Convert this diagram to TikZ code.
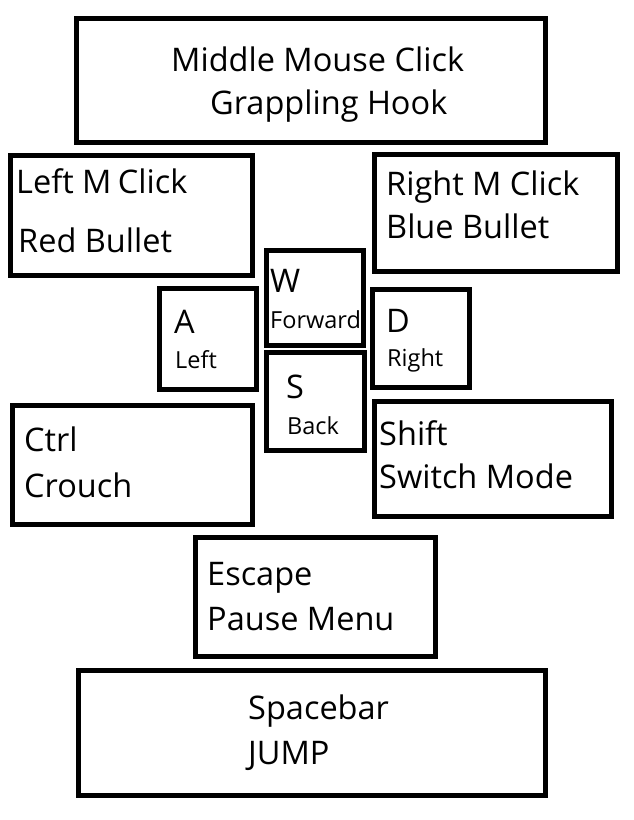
\documentclass[tikz,border=0pt]{standalone}
\usepackage{fontspec}
\setmainfont{Open Sans}
\begin{document}
\begin{tikzpicture}[x=1pt,y=-1pt,
  keybox/.style={draw=black,line width=5pt,rectangle,inner sep=0pt,outer sep=0pt},
  bigtxt/.style={anchor=base west,inner sep=0pt,font=\fontsize{32.5}{38}\selectfont},
  smalltxt/.style={anchor=base west,inner sep=0pt,font=\fontsize{23.5}{28}\selectfont}]
\useasboundingbox[fill=white] (0,0) rectangle (634,820);
% boxes
\node[keybox,minimum width=468.5pt,minimum height=123.5pt] (mid) at (310.75,80.25) {};
\node[keybox,minimum width=242pt,minimum height=120.5pt] (lmc) at (131.5,215.25) {};
\node[keybox,minimum width=242.5pt,minimum height=116.5pt] (rmc) at (495.75,212.75) {};
\node[keybox,minimum width=97pt,minimum height=94.5pt] (w) at (315,297.75) {};
\node[keybox,minimum width=97pt,minimum height=101pt] (a) at (208,339) {};
\node[keybox,minimum width=97pt,minimum height=98pt] (d) at (421,338.5) {};
\node[keybox,minimum width=98pt,minimum height=98pt] (s) at (315.5,401.5) {};
\node[keybox,minimum width=239.5pt,minimum height=119pt] (ctrl) at (132.25,465) {};
\node[keybox,minimum width=237pt,minimum height=115pt] (shift) at (493,458.5) {};
\node[keybox,minimum width=240pt,minimum height=119pt] (esc) at (315.5,597) {};
\node[keybox,minimum width=467pt,minimum height=125pt] (space) at (312,733) {};
% texts
\node[bigtxt] (t1) at (171,71) {Middle Mouse Click};
\node[bigtxt] (t2) at (210,114) {Grappling Hook};
\node[bigtxt] (t3) at (16,193) {Left M\kern-2pt\ Click};
\node[bigtxt] (t4) at (18,252) {Red Bullet};
\node[bigtxt] (t5) at (386,195) {Right M Click};
\node[bigtxt] (t6) at (386,238) {Blue Bullet};
\node[bigtxt] (t7) at (270,292) {W};
\node[smalltxt] (t8) at (270,328) {Forward};
\node[bigtxt] (t9) at (174,333) {A};
\node[smalltxt] (t10) at (175,368) {Left};
\node[bigtxt] (t11) at (386,332) {D};
\node[smalltxt] (t12) at (387,366) {Right};
\node[bigtxt] (t13) at (286,398) {S};
\node[smalltxt] (t14) at (287,434) {Back};
\node[bigtxt] (t15) at (24,451) {Ctrl};
\node[bigtxt] (t16) at (24,497) {Crouch};
\node[bigtxt] (t17) at (379,445) {Shift};
\node[bigtxt] (t18) at (379,488) {Switch Mode};
\node[bigtxt] (t19) at (207,585) {Escape};
\node[bigtxt] (t20) at (207,630) {Pause Menu};
\node[bigtxt] (t21) at (248,719) {Spacebar};
\node[bigtxt] (t22) at (248,764) {JUMP};
\end{tikzpicture}
\end{document}
